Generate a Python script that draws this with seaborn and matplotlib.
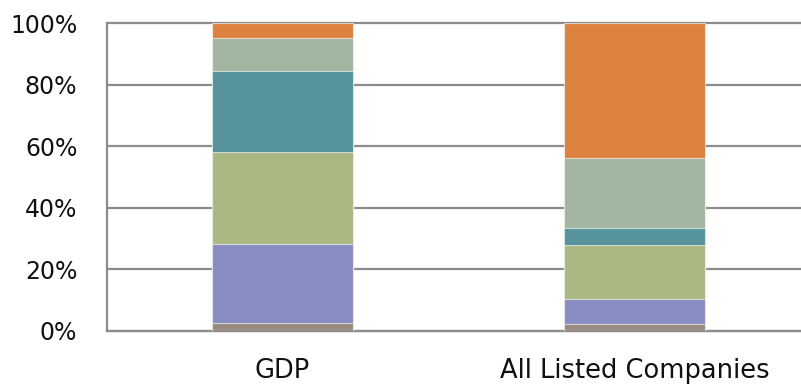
import numpy as np
import pandas as pd
import matplotlib
matplotlib.use("Agg")
import matplotlib.pyplot as plt
import seaborn as sns
from matplotlib.ticker import FixedLocator, PercentFormatter

sns.set_style("white")
plt.rcParams["font.family"] = ["DejaVu Sans"]

# Share of each segment (%), bottom to top
categories = ["GDP", "All Listed Companies"]
segments = ["Segment 1", "Segment 2", "Segment 3", "Segment 4", "Segment 5", "Segment 6"]
gdp = [2.4, 25.9, 29.7, 26.6, 10.6, 4.8]
listed = [2.1, 8.3, 17.5, 5.6, 22.6, 43.9]
colors = ["#9a8b80", "#8a8dc2", "#acb882", "#56929a", "#a3b6a2", "#db833e"]
y_ticks = [0, 20, 40, 60, 80, 100]

df = pd.DataFrame({"GDP": gdp, "All Listed Companies": listed}, index=segments)
cum = df.cumsum()

fig = plt.figure(figsize=(8.01, 3.86), dpi=100)
ax = fig.add_axes([106.5 / 801, (386 - 330.7) / 386, 704 / 801, 307.4 / 386])

grid_c = "#8c8c8c"
# Draw cumulative totals from the top segment down so each layer overlaps the next
for i in range(len(segments) - 1, -1, -1):
    sns.barplot(x=categories, y=cum.iloc[i][categories].values, color=colors[i],
                width=0.4, saturation=1, edgecolor=(1, 1, 1, 0.6), linewidth=0.8,
                ax=ax, zorder=3)

ax.set_xlim(-0.5, 1.5)
ax.set_ylim(0, 100)
ax.yaxis.set_major_locator(FixedLocator(y_ticks))
ax.yaxis.set_major_formatter(PercentFormatter(decimals=0))
ax.grid(axis="y", color=grid_c, linewidth=1.6, zorder=0)
ax.set_axisbelow(True)
for gl in ax.get_ygridlines():
    gl.set_clip_on(False)

for s in ["top", "right"]:
    ax.spines[s].set_visible(False)
for s in ["left", "bottom"]:
    ax.spines[s].set_color(grid_c)
    ax.spines[s].set_linewidth(1.6)

ax.set_xticks([0, 1])
ax.set_xticklabels(categories)
ax.set_xticks([-0.5, 0.5, 1.5], minor=True)
ax.tick_params(axis="x", which="major", length=0, pad=20, labelsize=18.5, labelcolor="#111111")
ax.tick_params(axis="x", which="minor", length=7, width=1.6, color=grid_c, direction="out")
ax.tick_params(axis="y", length=7, width=1.6, color=grid_c, direction="out", pad=14,
               labelsize=17, labelcolor="#111111")
ax.set_xlabel("")
ax.set_ylabel("")

fig.savefig("out.png", dpi=100)
